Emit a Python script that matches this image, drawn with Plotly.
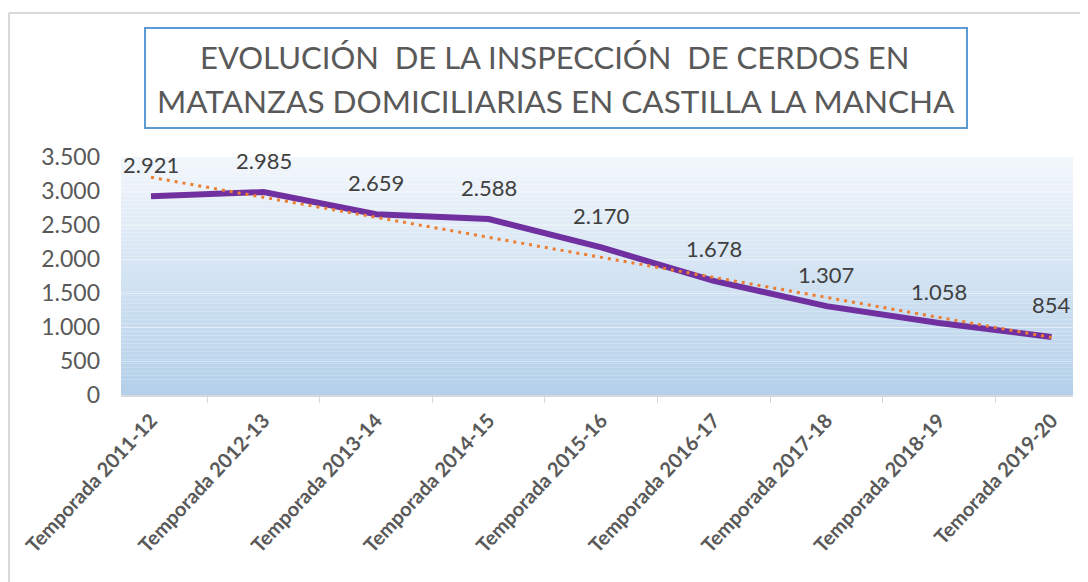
import numpy as np
import plotly.graph_objects as go

categories = ["Temporada 2011-12", "Temporada 2012-13", "Temporada 2013-14",
              "Temporada 2014-15", "Temporada 2015-16", "Temporada 2016-17",
              "Temporada 2017-18", "Temporada 2018-19", "Temorada 2019-20"]
values = [2921, 2985, 2659, 2588, 2170, 1678, 1307, 1058, 854]
y_ticks = [0, 500, 1000, 1500, 2000, 2500, 3000, 3500]
title_lines = ["EVOLUCIÓN  DE LA INSPECCIÓN  DE CERDOS EN",
               "MATANZAS DOMICILIARIAS EN CASTILLA LA MANCHA"]

def fmt(v):
    return f"{v:,}".replace(",", ".")

# linear trend line (Excel-style linear trendline)
xi = np.arange(1, len(values) + 1)
slope, intercept = np.polyfit(xi, values, 1)
trend = (slope * xi + intercept).tolist()

OFF = 8  # page body margin
PL, PR, PT, PB = 121 - OFF, 1073 - OFF, 157 - OFF, 395 - OFF  # plot area in figure px
W, H = 1088, 582
PW, PH = PR - PL, PB - PT

def px(x):
    return (x - OFF - PL) / PW

def py(y):
    return (PB - (y - OFF)) / PH

fig = go.Figure()
fig.add_trace(go.Scatter(x=categories, y=values, mode="lines",
                         line=dict(color="#7030a0", width=6), name="Serie"))
fig.add_trace(go.Scatter(x=categories, y=trend, mode="lines",
                         line=dict(color="#ed7d31", width=3, dash="3px,5px"),
                         name="Lineal"))

annotations = []
for c, v in zip(categories, values):
    annotations.append(dict(x=c, y=v, text=fmt(v), showarrow=False, yshift=32,
                            font=dict(family="Lato", size=22, color="#404040")))
annotations.append(dict(x=px(554), y=py(57), xref="paper", yref="paper",
                        text=title_lines[0], showarrow=False, yanchor="middle",
                        font=dict(family="Lato", size=31, color="#595959")))
annotations.append(dict(x=px(556), y=py(101), xref="paper", yref="paper",
                        text=title_lines[1], showarrow=False, yanchor="middle",
                        font=dict(family="Lato", size=31.5, color="#595959")))

shapes = []
# gradient background strips
n = 60
top = np.array([243, 247, 252])
bot = np.array([180, 208, 234])
for i in range(n):
    t = (i + 0.5) / n
    col = top + (bot - top) * t
    shapes.append(dict(type="rect", xref="paper", yref="paper",
                       x0=0, x1=1, y0=1 - (i + 1) / n, y1=1 - i / n,
                       fillcolor=f"rgb({int(col[0])},{int(col[1])},{int(col[2])})",
                       line=dict(width=0), layer="below"))
# title box
shapes.append(dict(type="rect", xref="paper", yref="paper",
                   x0=px(145), x1=px(967), y0=py(128), y1=py(28),
                   line=dict(color="#5b9bd5", width=2), fillcolor="rgba(0,0,0,0)"))
# outer chart border (top and left)
shapes.append(dict(type="line", xref="paper", yref="paper",
                   x0=px(9), x1=1.2, y0=py(13), y1=py(13),
                   line=dict(color="#d9d9d9", width=2)))
shapes.append(dict(type="line", xref="paper", yref="paper",
                   x0=px(9), x1=px(9), y0=py(13), y1=-1.2,
                   line=dict(color="#d9d9d9", width=2)))

fig.update_layout(
    width=W, height=H,
    margin=dict(l=PL, r=W - PR, t=PT, b=H - PB, autoexpand=False),
    paper_bgcolor="white", plot_bgcolor="white",
    showlegend=False,
    separators=",.",
    annotations=annotations,
    shapes=shapes,
    xaxis=dict(type="category", tickson="boundaries", ticks="outside", ticklen=6,
               tickcolor="#d9d9d9", showline=True, linecolor="#d9d9d9", linewidth=2,
               showgrid=False, tickangle=-47, automargin=False, ticklabelstandoff=4,
               tickfont=dict(family="Lato", size=20, color="#595959", weight="bold")),
    yaxis=dict(range=[0, 3500], tickvals=y_ticks, tickformat=",d",
               showgrid=True, gridcolor="rgba(255,255,255,0.4)", gridwidth=1,
               zeroline=False, showline=False, ticklabelstandoff=20, automargin=False,
               tickfont=dict(family="Lato", size=23, color="#595959")),
)

fig.write_html("out.html")
